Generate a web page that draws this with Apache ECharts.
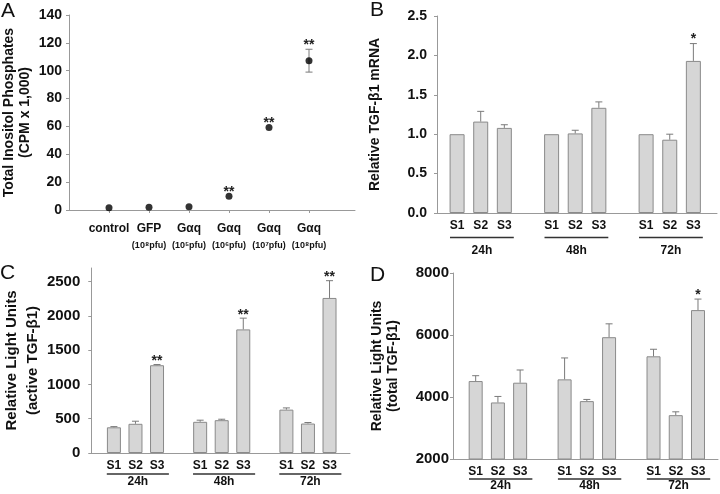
<!DOCTYPE html>
<html><head><meta charset="utf-8">
<script src="https://cdn.jsdelivr.net/npm/echarts@6/dist/echarts.min.js"></script>
<style>html,body{margin:0;padding:0;background:#fff}#c{width:720px;height:494px}</style>
</head><body><div id="c"></div>
<script>
const catA = ['control', 'GFP', 'Gαq', 'Gαq', 'Gαq', 'Gαq'];
const doseA = ['', '(10⁸pfu)', '(10⁵pfu)', '(10⁶pfu)', '(10⁷pfu)', '(10⁸pfu)'];
const valA = [1.7, 2.0, 2.3, 9.8, 59.3, 107.2];
const errA = [0, 0, 0, 0, 0, 8.2];
const sigA = ['', '', '', '**', '**', '**'];
const ticksA = [0, 20, 40, 60, 80, 100, 120, 140];

const groupLabels = ['24h', '48h', '72h'];
const subLabels = ['S1', 'S2', 'S3'];

const valB = [1.00, 1.16, 1.08, 1.00, 1.01, 1.335, 1.00, 0.93, 1.93];
const errB = [0, 0.13, 0.04, 0, 0.04, 0.075, 0, 0.07, 0.22];
const sigB = ['', '', '', '', '', '', '', '', '*'];
const ticksB = [0, 0.5, 1.0, 1.5, 2.0, 2.5];

const valC = [375, 426, 1281, 455, 479, 1804, 633, 430, 2263];
const errC = [10, 38, 10, 24, 14, 164, 25, 15, 252];
const sigC = ['', '', '**', '', '', '**', '', '', '**'];
const ticksC = [0, 500, 1000, 1500, 2000, 2500];

const valD = [4515, 3824, 4461, 4569, 3867, 5929, 5313, 3414, 6803];
const errD = [172, 194, 410, 691, 54, 431, 227, 108, 356];
const sigD = ['', '', '', '', '', '', '', '', '*'];
const ticksD = [2000, 4000, 6000, 8000];

const FONT = '"Liberation Sans", Arial, Helvetica, sans-serif';
const TXT = '#111';
const AX = '#999';

const slot = i => Math.floor(i / 3) * 4 + (i % 3);
const slotsBar = valB.map((_, i) => slot(i));

function yAxisCfg(k, min, max, ticks, name, nameSize, lh, gap, margin, labSize, fmt) {
  return {
    type: 'value', gridIndex: k, min: min, max: max,
    axisLine: { show: true, onZero: false, lineStyle: { color: AX, width: 1 } },
    axisTick: { show: true, length: 3, lineStyle: { color: AX }, customValues: ticks },
    axisLabel: { customValues: ticks, margin: margin, fontSize: labSize, fontWeight: 'bold', fontFamily: FONT, color: TXT, formatter: fmt || (v => String(v)) },
    splitLine: { show: false },
    name: name, nameLocation: 'middle', nameGap: gap,
    nameTextStyle: { fontSize: nameSize, fontWeight: 'bold', fontFamily: FONT, color: TXT, lineHeight: lh }
  };
}

function xAxisBars(k, min, max) {
  return {
    type: 'value', gridIndex: k, min: min, max: max,
    axisLine: { show: true, onZero: false, lineStyle: { color: AX, width: 1 } },
    axisTick: { show: false },
    splitLine: { show: false },
    axisLabel: {
      customValues: slotsBar, margin: 7, fontSize: 12, fontWeight: 'bold', fontFamily: FONT, color: TXT,
      formatter: v => subLabels[Math.round(v) % 4]
    }
  };
}

function barSeries(k, vals, bw) {
  return {
    type: 'bar', xAxisIndex: k, yAxisIndex: k, barWidth: bw, z: 2,
    data: vals.map((v, i) => [slot(i), v]),
    itemStyle: { color: '#d6d6d6', borderColor: '#8a8a8a', borderWidth: 1 }
  };
}

function errSeries(k, xs, vals, errs, sigs, lower, cap, starGap) {
  return {
    type: 'custom', xAxisIndex: k, yAxisIndex: k, clip: false, z: 5,
    encode: { x: 0, y: 1 },
    data: vals.map((v, i) => [xs[i], v, errs[i]]),
    renderItem: (params, api) => {
      const i = params.dataIndex;
      const x = xs[i], v = vals[i], e = errs[i];
      const top = api.coord([x, v + e]);
      const low = api.coord([x, lower ? v - e : v]);
      const hw = cap / 2;
      const st = { stroke: '#7a7a7a', lineWidth: 1 };
      const ch = [];
      if (e > 0) {
        ch.push({ type: 'line', shape: { x1: top[0], y1: top[1], x2: low[0], y2: low[1] }, style: st });
        ch.push({ type: 'line', shape: { x1: top[0] - hw, y1: top[1], x2: top[0] + hw, y2: top[1] }, style: st });
        if (lower) ch.push({ type: 'line', shape: { x1: low[0] - hw, y1: low[1], x2: low[0] + hw, y2: low[1] }, style: st });
      }
      if (sigs[i]) {
        ch.push({ type: 'text', style: { text: sigs[i], x: top[0], y: top[1] - starGap, align: 'center', verticalAlign: 'middle', font: 'bold 14px ' + FONT, fill: '#222' } });
      }
      return { type: 'group', children: ch };
    }
  };
}

function groupSeries(k, yMin, a, b, ulOff, txtOff) {
  return {
    type: 'custom', xAxisIndex: k, yAxisIndex: k, clip: false, z: 5, silent: true,
    encode: { x: 0, y: 1 },
    data: groupLabels.map((_, g) => [g * 4 + a, yMin, g * 4 + b]),
    renderItem: (params, api) => {
      const g = params.dataIndex;
      const p = api.coord([g * 4 + a, yMin]);
      const q = api.coord([g * 4 + b, yMin]);
      return {
        type: 'group', children: [
          { type: 'line', shape: { x1: p[0], y1: p[1] + ulOff, x2: q[0], y2: p[1] + ulOff }, style: { stroke: '#333', lineWidth: 1.5 } },
          { type: 'text', style: { text: groupLabels[g], x: (p[0] + q[0]) / 2, y: p[1] + txtOff, align: 'center', verticalAlign: 'middle', font: 'bold 12px ' + FONT, fill: TXT } }
        ]
      };
    }
  };
}

const xsA = valA.map((_, i) => i + 1);

const option = {
  animation: false,
  backgroundColor: '#fff',
  grid: [
    { left: 69, top: 15, width: 286, height: 195 },
    { left: 437, top: 16, width: 280, height: 197 },
    { left: 83, top: 268, width: 267, height: 185 },
    { left: 453, top: 273, width: 265, height: 186 }
  ],
  xAxis: [
    {
      type: 'value', gridIndex: 0, min: 0, max: 7.15,
      axisLine: { show: true, onZero: false, lineStyle: { color: AX, width: 1 } },
      axisTick: { show: true, length: 3, lineStyle: { color: AX }, customValues: xsA },
      splitLine: { show: false },
      axisLabel: {
        customValues: xsA, margin: 9, color: TXT, fontFamily: FONT,
        formatter: v => '{m|' + catA[Math.round(v) - 1] + '}\n{s|' + (doseA[Math.round(v) - 1] || ' ') + '}',
        rich: {
          m: { fontSize: 12, fontWeight: 'bold', fontFamily: FONT, color: TXT, lineHeight: 20 },
          s: { fontSize: 9, fontWeight: 'bold', fontFamily: FONT, color: TXT, lineHeight: 14 }
        }
      }
    },
    xAxisBars(1, -0.85, 11.0),
    xAxisBars(2, -1.05, 10.95),
    xAxisBars(3, -1.02, 10.9)
  ],
  yAxis: [
    yAxisCfg(0, 0, 140, ticksA, 'Total Inositol Phosphates\n(CPM x 1,000)', 14, 16, 36, 7, 14),
    yAxisCfg(1, 0, 2.5, ticksB, 'Relative TGF-β1 mRNA', 14, 16, 54, 10, 14, v => v.toFixed(1)),
    yAxisCfg(2, 0, 2700, ticksC, 'Relative Light Units\n(active TGF-β1)', 15, 21, 44, 11, 15),
    yAxisCfg(3, 2000, 8000, ticksD, 'Relative Light Units\n(total TGF-β1)', 14, 16, 52, 4, 15)
  ],
  series: [
    {
      type: 'scatter', xAxisIndex: 0, yAxisIndex: 0, z: 6,
      data: valA.map((v, i) => [xsA[i], v]),
      symbol: 'circle', symbolSize: 7, itemStyle: { color: '#000' }
    },
    errSeries(0, xsA, valA, errA, sigA, true, 7, 4),
    barSeries(1, valB, 15),
    errSeries(1, slotsBar, valB, errB, sigB, false, 7, 4),
    groupSeries(1, 0, -0.3, 2.4, 24.5, 38),
    barSeries(2, valC, 14),
    errSeries(2, slotsBar, valC, errC, sigC, false, 7, 3.5),
    groupSeries(2, 0, -0.33, 2.55, 21, 29),
    barSeries(3, valD, 14),
    errSeries(3, slotsBar, valD, errD, sigD, false, 7, 4),
    groupSeries(3, 2000, -0.3, 2.55, 20, 27)
  ],
  graphic: [
    { type: 'text', left: 1, top: 1, style: { text: 'A', font: '21px ' + FONT, fill: TXT } },
    { type: 'text', left: 370, top: 0, style: { text: 'B', font: '21px ' + FONT, fill: TXT } },
    { type: 'text', left: 0, top: 263, style: { text: 'C', font: '21px ' + FONT, fill: TXT } },
    { type: 'text', left: 370, top: 265, style: { text: 'D', font: '21px ' + FONT, fill: TXT } }
  ]
};

const chart = echarts.init(document.getElementById('c'), null, { renderer: 'canvas' });
chart.setOption(option);
</script>
</body></html>
